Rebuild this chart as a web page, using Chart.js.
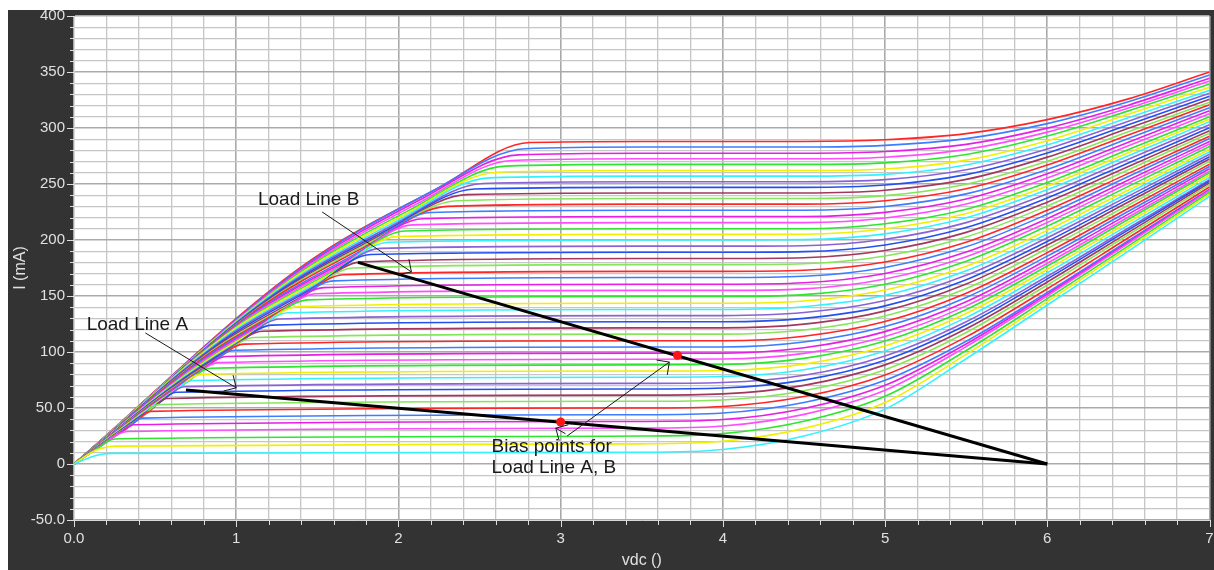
<!DOCTYPE html>
<html>
<head>
<meta charset="utf-8">
<script src="https://cdn.jsdelivr.net/npm/chart.js@4.4.1/dist/chart.umd.min.js"></script>
<style>
  html, body { margin: 0; padding: 0; background: #ffffff; }
  #panel { position: absolute; left: 8px; top: 10px; width: 1206px; height: 560px; }
</style>
</head>
<body>
<div id="panel"><canvas id="iv" width="1206" height="560"></canvas></div>
<script>
// ---- Output characteristic family: one curve per base-drive step (51 steps) ----

// Rising (saturation) region: two intermediate points and the knee of each curve
const riseV1 = [0.12,0.13,0.145,0.165,0.185,0.21,0.235,0.26,0.285,0.315,0.34,0.365,0.39,0.42,0.445,0.47,0.495,0.525,0.555,0.58,0.61,0.635,0.66,0.69,0.72,0.745,0.77,0.80,0.83,0.86,0.885,0.915,0.945,0.97,0.995,1.02,1.045,1.075,1.10,1.125,1.15,1.18,1.205,1.23,1.25,1.275,1.305,1.33,1.35,1.38,1.405];
const riseI1 = [7,12,13.9,16,18.2,20.9,23.6,26.4,29.3,32.7,35.7,38.7,41.8,45.4,48.4,51.5,54.6,58.3,62.1,65.4,69.2,72.4,75.7,79.5,83.4,86.8,90.3,94.3,98.2,102.1,105.6,109.6,113.7,117.3,121,124.2,127.4,131,134.2,137.5,140.8,144.6,148,151.5,154.5,158,162,165.5,168.7,172.8,176.5];
const riseV2 = [0.18,0.21,0.23,0.26,0.30,0.34,0.38,0.42,0.46,0.50,0.54,0.58,0.62,0.67,0.71,0.75,0.79,0.84,0.89,0.93,0.98,1.02,1.06,1.10,1.15,1.19,1.23,1.28,1.33,1.38,1.42,1.46,1.51,1.55,1.59,1.63,1.67,1.72,1.76,1.80,1.84,1.89,1.93,1.97,2.00,2.04,2.09,2.13,2.16,2.21,2.25];
const riseI2 = [9,15.4,21.6,25.6,29.1,33.4,37.8,42.2,46.5,51.6,56.2,60.7,65.2,70.3,74.9,79.5,84.2,89.4,94.7,99.3,104.7,109.2,113.2,118,122.7,126.9,131.2,136.2,141.3,146.3,150.8,155.9,161,165.5,170.1,174.7,179.4,184.8,189.6,194.5,199.1,204.2,208.9,213.6,217.7,222.7,228.4,233.5,238,243.8,246.8];
const kneeV = [0.23,0.26,0.29,0.33,0.37,0.42,0.47,0.52,0.57,0.63,0.68,0.73,0.78,0.84,0.89,0.94,0.99,1.05,1.11,1.16,1.22,1.27,1.32,1.38,1.44,1.49,1.54,1.60,1.66,1.72,1.77,1.83,1.89,1.94,1.99,2.04,2.09,2.15,2.20,2.30,2.36,2.42,2.47,2.52,2.56,2.61,2.66,2.70,2.74,2.78,2.81];
const kneeI = [9.5,16,22.5,29,35,41,47,53,58.5,64,69,74.5,80,85.5,90.5,96,101.5,107,113,118.5,124,129.5,135,140.5,146.5,152,157.5,163.5,169,175,180.5,187,192.5,198,203,208,213.5,219,224.5,230,235,240.5,245.5,250.5,255.5,260.5,266,271,276,281.5,287];

// Flat and high-voltage region: current (mA) of each curve at the voltages in highV
const highV = [3.5, 4.0, 4.5, 5.0, 5.5, 6.0, 6.5, 7.0];
const i35 = [10.5,18,25,32,38,44,50,56,61.5,67,72,77.5,83,88.5,93.5,99,104.5,110,116,121.5,127,132.5,138,143.5,149.5,155,160.5,166.5,172,178,183.5,189,194.5,200,205,210,215.5,221,226.5,232,237,242,247,252,257,262,267.5,272.5,277.5,283,288];
const i40 = [13,20.3,27.1,33.9,39.7,45.5,51.4,57.2,62.6,67.9,72.8,78.1,83.5,88.8,93.7,99,104.5,110,116,121.5,127,132.5,138,143.5,149.5,155,160.5,166.5,172,178,183.5,189,194.5,200,205,210,215.5,221,226.5,232,237,242,247,252,257,262,267.5,272.5,277.5,283,288];
const i45 = [25,31.8,38.1,44.3,49.6,54.9,60.2,65.4,70.2,74.9,79.2,84.2,89.2,94.3,98.8,103.8,108.9,114.1,119.7,124.9,130,135.2,140.4,145.5,151.2,156.4,161.8,167.6,173,178.8,184.2,189.6,194.9,200.3,205.1,210,215.5,221,226.5,232,237,242,247,252,257,262,267.5,272.5,277.5,283,288];
const i50 = [49,54.9,60.4,65.8,70.3,74.7,79.5,84.2,88.5,92.7,96.5,100.9,105.4,109.8,113.8,118.2,122.7,127.2,132.2,136.7,141.2,145.9,150.6,155.3,160.5,165.2,170.1,175.5,180.3,185.7,190.6,195.6,200.6,205.5,210,214.5,219.6,224.7,229.9,235,239.6,244.4,249.1,253.9,258.6,263.4,268.9,273.9,279,284.5,289.5];
const i55 = [94,97.9,101.3,104.8,107.2,109.6,113.5,117.4,120.7,124.1,127,130.7,134.4,138,141.2,144.9,148.7,152.5,156.7,160.7,164.5,168.5,172.5,176.6,181.1,185.1,189.2,193.9,198,202.7,206.8,211.1,215.5,219.8,223.7,227.5,232.1,236.6,241.2,245.7,249.8,254.1,258.4,262.7,267,271.3,276.3,280.9,285.4,290.5,295];
const i60 = [142,145,147.6,150.1,151.7,153.2,156.5,159.8,162.5,165.3,167.6,170.7,173.7,176.8,179.3,182.4,185.6,188.7,192.4,195.5,198.7,202,205.3,208.6,212.4,215.7,219.1,223,226.5,230.4,233.8,237.5,241.2,244.9,248.2,251.4,255.3,259.2,263,266.9,270.3,274,277.7,281.3,285,288.7,292.8,296.3,299.9,303.9,307.5];
const i65 = [190,192.7,194.8,197,198.1,199.3,202,204.7,206.8,209,210.7,213.3,215.9,218.5,220.5,223.1,225.7,228.3,231.3,233.9,236.5,239.2,241.9,244.7,247.9,250.6,253.6,256.7,259.5,262.8,265.6,268.8,272.1,275.3,278,280.8,284.1,287.3,290.6,293.8,296.6,299.7,302.8,306,309.1,312.2,315.3,317.8,320.4,323.4,326];
const i70 = [239,241,242.6,244.1,244.7,245.2,247.3,249.4,251.1,252.7,253.8,255.9,258,260,261.5,263.6,265.6,267.7,270.2,272.3,274.3,276.5,278.7,280.8,283.5,285.7,287.9,290.6,292.7,295.4,297.6,300.3,303,305.7,307.9,310.1,312.8,315.5,318.1,320.8,323,325.7,328.3,331,333.6,336.3,339.3,341.9,344.4,347.4,350];

// Colour cycle of the curve family (lowest curve first)
const seriesColors = ['#33f2ff','#f0f000','#2ee62e','#ff4dff','#e61ee6','#3d7dff','#ff2626','#86e65a','#a3385e','#2450f0','#8a62d8'];

// Load lines (V, mA) and quiescent points
const loadLineAV = [0.69, 6.0];
const loadLineAI = [66, 0];
const loadLineBV = [1.75, 6.0];
const loadLineBI = [180, 0];
const biasV = [3.0, 3.72];
const biasI = [37.5, 97];

// Callouts
const noteText = ['Load Line A', 'Load Line B', 'Bias points for', 'Load Line A, B'];
const noteV = [0.078, 1.134, 2.574, 2.574];
const noteI = [119.6, 231.2, 11, -8.3];
const arrowFromV = [0.44, 1.53, 3.03, 3.04];
const arrowFromI = [117, 225, 27, 25];
const arrowToV = [1.0, 2.08, 2.97, 3.67];
const arrowToI = [68, 171.5, 32, 91];

// Axis tick labels
const xTickValues = [0, 1, 2, 3, 4, 5, 6, 7];
const xTickText = ['0.0', '1', '2', '3', '4', '5', '6', '7'];
const yTickValues = [-50, 0, 50, 100, 150, 200, 250, 300, 350, 400];
const yTickText = ['-50.0', '0', '50.0', '100', '150', '200', '250', '300', '350', '400'];

// ---- build datasets ----
const highI = [i35, i40, i45, i50, i55, i60, i65, i70];
const curveSets = i35.map((_, k) => {
  const pts = [
    { x: 0, y: 0 },
    { x: riseV1[k], y: riseI1[k] },
    { x: riseV2[k], y: riseI2[k] },
    { x: kneeV[k], y: kneeI[k] }
  ];
  highV.forEach((v, j) => pts.push({ x: v, y: highI[j][k] }));
  return {
    label: 'step ' + (k + 1),
    data: pts,
    borderColor: seriesColors[k % seriesColors.length],
    borderWidth: 1.6,
    pointRadius: 0,
    cubicInterpolationMode: 'monotone',
    fill: false,
    order: 5
  };
});

const loadSets = [
  { label: 'Load Line A', data: loadLineAV.map((v, j) => ({ x: v, y: loadLineAI[j] })) },
  { label: 'Load Line B', data: loadLineBV.map((v, j) => ({ x: v, y: loadLineBI[j] })) }
].map(d => Object.assign(d, {
  borderColor: '#000000', borderWidth: 3, pointRadius: 0, tension: 0, fill: false, order: 2
}));

const biasSet = {
  label: 'Bias points',
  data: biasV.map((v, j) => ({ x: v, y: biasI[j] })),
  showLine: false,
  pointRadius: 4.5,
  pointBackgroundColor: '#ff1414',
  pointBorderColor: '#ff1414',
  pointBorderWidth: 0,
  order: 1
};

const near = (a, b) => Math.abs(a - b) < 1e-6;
const isMajorX = v => near(v, Math.round(v));
const isMajorY = v => near(v / 50, Math.round(v / 50));

// dark frame + white plotting area
const framePlugin = {
  id: 'frame',
  beforeDraw(chart) {
    const { ctx, chartArea: a } = chart;
    ctx.save();
    ctx.fillStyle = '#333333';
    ctx.fillRect(0, 0, chart.width, chart.height);
    ctx.fillStyle = '#ffffff';
    ctx.fillRect(a.left, a.top, a.right - a.left, a.bottom - a.top);
    ctx.restore();
  }
};

// outward tick marks, longer at labelled values
const tickMarkPlugin = {
  id: 'tickMarks',
  afterDraw(chart) {
    const { ctx, scales: { x, y }, chartArea: a } = chart;
    ctx.save();
    ctx.strokeStyle = '#dddddd';
    ctx.lineWidth = 1;
    ctx.beginPath();
    y.ticks.forEach(t => {
      const py = Math.round(y.getPixelForValue(t.value)) + 0.5;
      const len = isMajorY(t.value) ? 7 : 4;
      ctx.moveTo(a.left - len, py);
      ctx.lineTo(a.left, py);
    });
    x.ticks.forEach(t => {
      const px = Math.round(x.getPixelForValue(t.value)) + 0.5;
      const len = isMajorX(t.value) ? 7 : 5;
      ctx.moveTo(px, a.bottom);
      ctx.lineTo(px, a.bottom + len);
    });
    ctx.stroke();
    ctx.restore();
  }
};

// callout text and arrows
const calloutPlugin = {
  id: 'callouts',
  afterDatasetsDraw(chart) {
    const { ctx, scales: { x, y } } = chart;
    ctx.save();
    ctx.strokeStyle = '#1a1a1a';
    ctx.lineWidth = 1;
    arrowFromV.forEach((v, j) => {
      const x0 = x.getPixelForValue(v), y0 = y.getPixelForValue(arrowFromI[j]);
      const x1 = x.getPixelForValue(arrowToV[j]), y1 = y.getPixelForValue(arrowToI[j]);
      const ang = Math.atan2(y0 - y1, x0 - x1);
      const head = 13, spread = Math.PI / 4;
      ctx.beginPath();
      ctx.moveTo(x0, y0);
      ctx.lineTo(x1, y1);
      ctx.moveTo(x1 + head * Math.cos(ang - spread), y1 + head * Math.sin(ang - spread));
      ctx.lineTo(x1, y1);
      ctx.lineTo(x1 + head * Math.cos(ang + spread), y1 + head * Math.sin(ang + spread));
      ctx.stroke();
    });
    ctx.fillStyle = '#1a1a1a';
    ctx.font = '19px "Liberation Sans", Arial, sans-serif';
    ctx.textBaseline = 'alphabetic';
    ctx.textAlign = 'left';
    noteText.forEach((t, j) => {
      ctx.fillText(t, x.getPixelForValue(noteV[j]), y.getPixelForValue(noteI[j]));
    });
    ctx.restore();
  }
};

const tickFont = { family: '"Liberation Sans", Arial, sans-serif', size: 15 };

new Chart(document.getElementById('iv'), {
  type: 'line',
  data: { datasets: [biasSet, ...loadSets, ...curveSets] },
  options: {
    responsive: false,
    animation: false,
    events: [],
    parsing: true,
    layout: { padding: { top: 6, right: 4, left: 0, bottom: 0 } },
    plugins: { legend: { display: false }, tooltip: { enabled: false } },
    scales: {
      x: {
        type: 'linear',
        min: 0,
        max: 7,
        ticks: {
          stepSize: 0.2,
          autoSkip: false,
          maxRotation: 0,
          padding: 10,
          color: '#e0e0e0',
          font: tickFont,
          callback: v => {
            const idx = xTickValues.findIndex(t => near(t, v));
            return idx >= 0 ? xTickText[idx] : '';
          }
        },
        grid: {
          drawTicks: false,
          color: c => (c.tick && isMajorX(c.tick.value)) ? '#a9a9a9' : '#c6c6c6',
          lineWidth: c => (c.tick && isMajorX(c.tick.value)) ? 1.6 : 1.3
        },
        border: { display: true, color: '#d8d8d8', width: 1 },
        title: {
          display: true,
          text: 'vdc ()',
          color: '#e0e0e0',
          font: { family: '"Liberation Sans", Arial, sans-serif', size: 16 },
          padding: { top: 0, bottom: 0 }
        },
        afterFit(scale) { scale.height = 50; scale.paddingLeft = 0; scale.paddingRight = 0; }
      },
      y: {
        type: 'linear',
        min: -50,
        max: 400,
        ticks: {
          stepSize: 10,
          autoSkip: false,
          padding: 9,
          color: '#e0e0e0',
          font: tickFont,
          callback: v => {
            const idx = yTickValues.findIndex(t => near(t, v));
            return idx >= 0 ? yTickText[idx] : '';
          }
        },
        grid: {
          drawTicks: false,
          color: c => (c.tick && isMajorY(c.tick.value)) ? '#a9a9a9' : '#c6c6c6',
          lineWidth: c => (c.tick && isMajorY(c.tick.value)) ? 1.6 : 1.3
        },
        border: { display: true, color: '#d8d8d8', width: 1 },
        title: {
          display: true,
          text: 'I (mA)',
          color: '#e0e0e0',
          font: { family: '"Liberation Sans", Arial, sans-serif', size: 16 },
          padding: { top: 3, bottom: 0 }
        },
        afterFit(scale) { scale.width = 66; scale.paddingTop = 0; scale.paddingBottom = 0; }
      }
    }
  },
  plugins: [framePlugin, tickMarkPlugin, calloutPlugin]
});
</script>
</body>
</html>
